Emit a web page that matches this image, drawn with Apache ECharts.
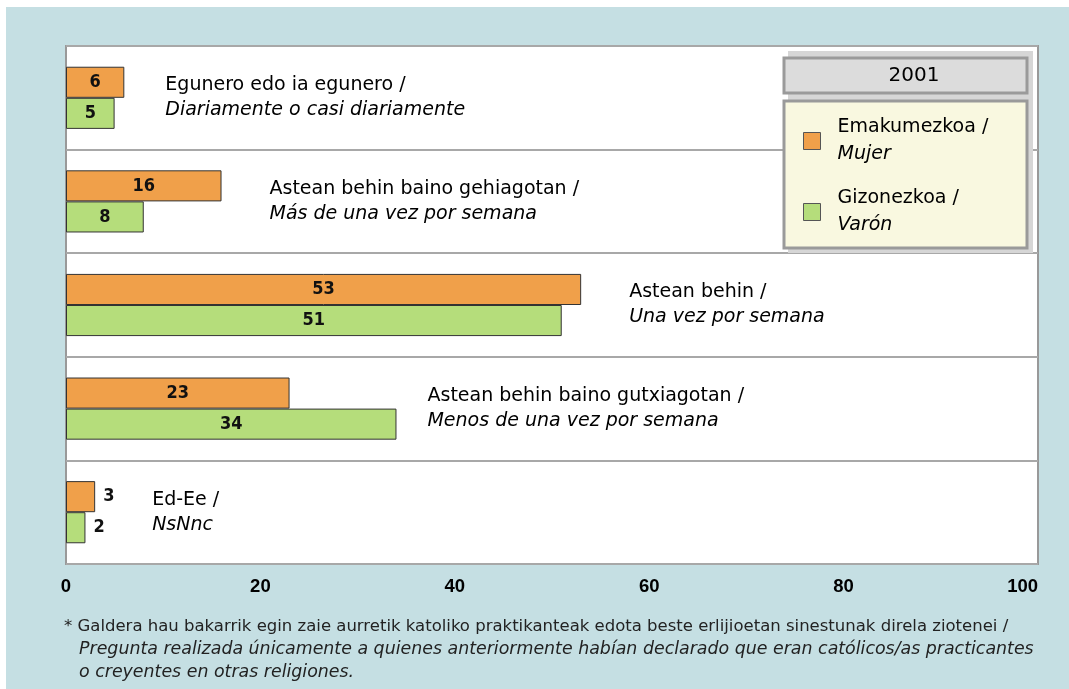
<!DOCTYPE html>
<html>
<head>
<meta charset="utf-8">
<script src="https://cdn.jsdelivr.net/npm/echarts@6/dist/echarts.min.js"></script>
<style>
  html, body { margin: 0; padding: 0; background: #fff; }
  #chart { width: 1069px; height: 689px; }
</style>
</head>
<body>
<div id="chart"></div>
<script>
// categorias (euskera / castellano)
const catEu = ['Egunero edo ia egunero /', 'Astean behin baino gehiagotan /', 'Astean behin /', 'Astean behin baino gutxiagotan /', 'Ed-Ee /'];
const catEs = ['Diariamente o casi diariamente', 'Más de una vez por semana', 'Una vez por semana', 'Menos de una vez por semana', 'NsNnc'];
const women = [6, 16, 53, 23, 3];
const men = [5, 8, 51, 34, 2];
const xTicks = [0, 20, 40, 60, 80, 100];

// distancia del texto de la categoria respecto a la barra mas larga (px)
const noteGap = [41, 48, 48, 31, 57];

const ORANGE = '#f0a04a';
const GREEN = '#b5dd7b';
const FONT = "'DejaVu Sans', sans-serif";
const FONT_NUM = "'DejaVu Sans Condensed', 'DejaVu Sans', sans-serif";

const valueLabel = v => (v < 4
  ? { show: true, position: 'right', distance: 8 }
  : { show: true, position: 'inside' });

const barSeries = (name, data, color) => ({
  name: name,
  type: 'bar',
  barGap: '0%',
  barCategoryGap: '40%',
  itemStyle: { color: color, borderColor: '#333', borderWidth: 1 },
  label: {
    fontFamily: FONT_NUM,
    fontWeight: 'bold',
    fontSize: 18,
    color: '#111'
  },
  data: data.map(v => ({ value: v, label: valueLabel(v) })),
  z: 3
});

const chart = echarts.init(document.getElementById('chart'));

const option = {
  backgroundColor: '#fff',
  animation: false,
  grid: {
    left: 66, right: 31, top: 46, bottom: 125,
    show: true,
    backgroundColor: '#fff',
    borderColor: '#999',
    borderWidth: 2
  },
  xAxis: {
    type: 'value',
    min: 0, max: 100, interval: 20,
    axisLine: { show: false },
    axisTick: { show: false },
    splitLine: { show: false },
    axisLabel: {
      margin: 13,
      fontFamily: 'Liberation Sans',
      fontWeight: 'bold',
      fontSize: 18.5,
      color: '#000',
      alignMaxLabel: 'right',
      formatter: v => (xTicks.indexOf(v) >= 0 ? String(v) : '')
    }
  },
  yAxis: {
    type: 'category',
    inverse: true,
    data: catEu,
    axisLine: { show: false },
    axisTick: { show: false },
    axisLabel: { show: false },
    splitLine: { show: true, lineStyle: { color: '#a8a8a8', width: 2 } }
  },
  legend: {
    orient: 'vertical',
    left: 803,
    top: 113,
    z: 8,
    padding: [5, 0, 5, 0],
    itemWidth: 17,
    itemHeight: 17,
    itemGap: 25,
    icon: 'rect',
    itemStyle: { borderColor: '#555', borderWidth: 1 },
    selectedMode: false,
    data: ['Emakumezkoa', 'Gizonezkoa'],
    formatter: name => name === 'Emakumezkoa'
      ? '{a|Emakumezkoa /}\n{b|Mujer}'
      : '{a|Gizonezkoa /}\n{b|Varón}',
    textStyle: {
      rich: {
        a: { fontFamily: FONT, fontSize: 19, lineHeight: 27, color: '#000', padding: [0, 0, 0, 12] },
        b: { fontFamily: FONT, fontSize: 19, lineHeight: 27, color: '#000', fontStyle: 'italic', padding: [0, 0, 0, 12] }
      }
    }
  },
  graphic: [
    {
      type: 'rect', z: -10, silent: true,
      shape: { x: 6, y: 7, width: 1063, height: 682 },
      style: { fill: '#c5dfe3' }
    },
    {
      type: 'rect', z: 5, silent: true,
      shape: { x: 788, y: 51, width: 245, height: 202 },
      style: { fill: '#d6d6d6' }
    },
    {
      type: 'rect', z: 6, silent: true,
      shape: { x: 784, y: 58, width: 243, height: 35 },
      style: { fill: '#dcdcdc', stroke: '#9a9a9a', lineWidth: 3 }
    },
    {
      type: 'text', z: 7, silent: true,
      x: 914, y: 76,
      style: { text: '2001', fontFamily: 'DejaVu Sans', fontSize: 20, fill: '#000',
        align: 'center', verticalAlign: 'middle' }
    },
    {
      type: 'rect', z: 6, silent: true,
      shape: { x: 784, y: 101, width: 243, height: 147 },
      style: { fill: '#f9f8e0', stroke: '#9a9a9a', lineWidth: 3 }
    },
    {
      type: 'text', z: 7, silent: true,
      x: 64, y: 618,
      style: {
        text: '* Galdera hau bakarrik egin zaie aurretik katoliko praktikanteak edota beste erlijioetan sinestunak direla ziotenei /',
        fontFamily: 'DejaVu Sans', fontSize: 16.5, fill: '#222'
      }
    },
    {
      type: 'text', z: 7, silent: true,
      x: 79, y: 638,
      style: {
        text: 'Pregunta realizada únicamente a quienes anteriormente habían declarado que eran católicos/as practicantes\no creyentes en otras religiones.',
        fontFamily: 'DejaVu Sans', fontSize: 17.4, fontStyle: 'italic', fill: '#222', lineHeight: 23
      }
    }
  ],
  series: [
    barSeries('Emakumezkoa', women, ORANGE),
    barSeries('Gizonezkoa', men, GREEN),
    {
      name: 'notes',
      type: 'scatter',
      symbolSize: 0,
      silent: true,
      z: 4,
      data: catEu.map((c, i) => ({
        value: [Math.max(women[i], men[i]), i],
        label: { distance: noteGap[i] }
      })),
      label: {
        show: true,
        position: 'right',
        color: '#000',
        opacity: 1,
        formatter: p => '{a|' + catEu[p.dataIndex] + '}\n{b|' + catEs[p.dataIndex] + '}',
        rich: {
          a: { fontFamily: FONT, fontSize: 19, lineHeight: 25, color: '#000' },
          b: { fontFamily: FONT, fontSize: 19, lineHeight: 25, color: '#000', fontStyle: 'italic' }
        }
      }
    }
  ]
};

chart.setOption(option);
</script>
</body>
</html>
